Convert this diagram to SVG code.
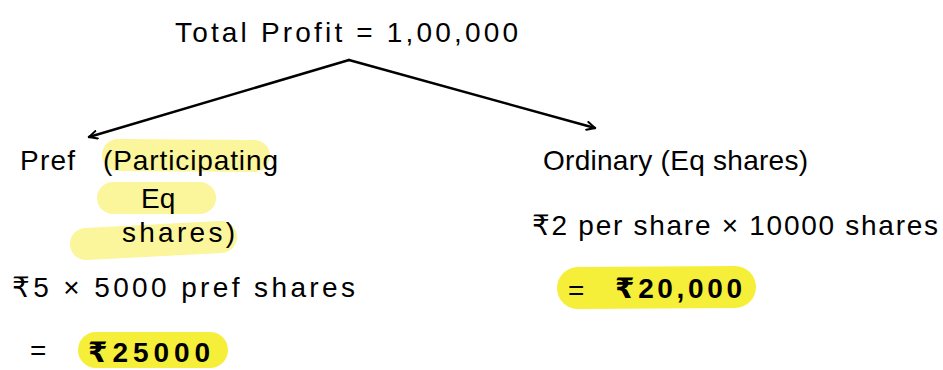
<svg xmlns="http://www.w3.org/2000/svg" width="943" height="370" viewBox="0 0 943 370">
<style>
.t{font-family:"Liberation Sans","DejaVu Sans",sans-serif;fill:#000;font-size:28px}
.b{font-weight:bold}
.hl{fill:none;stroke-linecap:round;stroke-linejoin:round}
.soft{stroke:#fbf59c}
.bright{stroke:#f6ef3a}
.c{fill:none;stroke:#000;stroke-width:2.5;stroke-linecap:round;stroke-linejoin:round}
</style>
<defs>
<marker id="ah" viewBox="0 0 10 10" refX="9" refY="5" markerWidth="10" markerHeight="10" markerUnits="userSpaceOnUse" orient="auto">
<path d="M1,1 L9,5 L1,9" fill="none" stroke="#000" stroke-width="2" stroke-linecap="round"/>
</marker>
</defs>
<rect width="943" height="370" fill="#fff"/>
<g id="connectors">
<path class="c" d="M349,60 L89,137" marker-end="url(#ah)"/>
<path class="c" d="M349,60 L595,128" marker-end="url(#ah)"/>
</g>
<g id="total">
<text class="t" x="175" y="42" font-size="31" textLength="343">Total Profit = 1,00,000</text>
</g>
<g id="pref">
<path class="hl soft" stroke-width="32" d="M118,155 L254,156"/>
<path class="hl soft" stroke-width="32" d="M113,198 L200,198"/>
<path class="hl soft" stroke-width="32" d="M86,244 L221,237"/>
<text class="t" x="20" y="170" textLength="55">Pref</text>
<text class="t" x="103" y="170" textLength="175">(Participating</text>
<text class="t" x="141" y="208" font-size="20">Eq</text>
<text class="t" x="122" y="242" textLength="113">shares)</text>
<text class="t" x="12" y="297" textLength="343">₹5 × 5000 pref shares</text>
<path class="hl bright" stroke-width="36" d="M96,350 L210,350"/>
<text class="t" x="30" y="360" font-size="24">=</text>
<text class="t b" x="88" y="362" font-size="30" textLength="122">₹25000</text>
</g>
<g id="ordinary">
<text class="t" x="543" y="170" textLength="265">Ordinary (Eq shares)</text>
<text class="t" x="532" y="235" textLength="406">₹2 per share × 10000 shares</text>
<path class="hl bright" stroke-width="42" d="M578,288 L735,287"/>
<text class="t" x="568" y="300" font-size="24">=</text>
<text class="t b" x="615" y="298" font-size="30" textLength="127">₹20,000</text>
</g>
</svg>
